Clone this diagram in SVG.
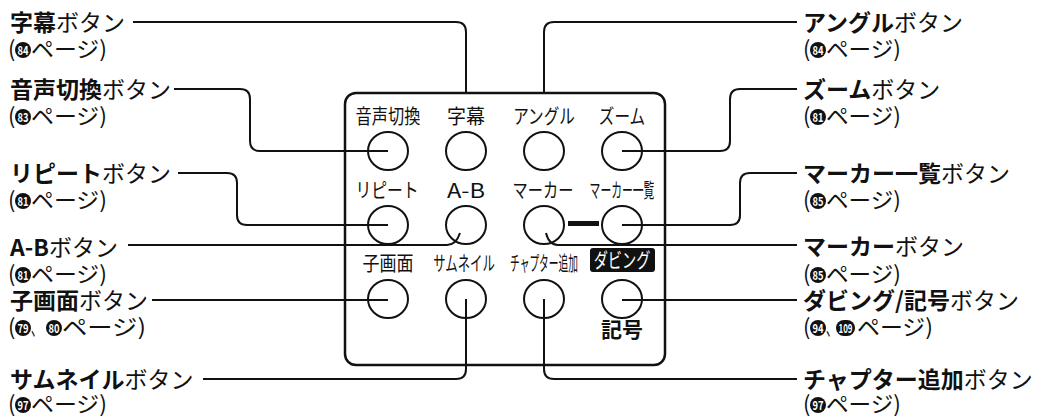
<svg xmlns="http://www.w3.org/2000/svg" width="1040" height="416" viewBox="0 0 1040 416">
<style>
text{font-family:"Noto Sans CJK JP","Noto Sans",sans-serif;fill:#111}
.m{font-size:23px}
.b{font-weight:700}
.s{font-size:22px}
.p{font-size:20px;text-anchor:middle}
.n{font-size:12.5px;font-weight:700;fill:#fff;text-anchor:middle}
.w{fill:#fff}
.k{fill:#111}
.btn{fill:none;stroke:#111;stroke-width:2}
.panel{fill:none;stroke:#111;stroke-width:2.5}
.c{fill:none;stroke:#111;stroke-width:2}
</style>
<rect width="1040" height="416" fill="#fff"/>
<g id="panel">
<rect class="panel" x="345" y="93" width="320" height="272" rx="11"/>
<rect x="568" y="221" width="31" height="5" fill="#111"/>
</g>
<g id="btn-onsei"><text class="p" transform="translate(388,124) scale(0.81,1)">音声切換</text><ellipse class="btn" cx="388" cy="151" rx="20" ry="19"/></g>
<g id="btn-jimaku"><text class="p" transform="translate(466,124) scale(0.95,1)">字幕</text><ellipse class="btn" cx="466" cy="151" rx="20" ry="19"/></g>
<g id="btn-angle"><text class="p" transform="translate(544,124) scale(0.78,1)">アングル</text><ellipse class="btn" cx="544" cy="151" rx="20" ry="19"/></g>
<g id="btn-zoom"><text class="p" transform="translate(622,124) scale(0.78,1)">ズーム</text><ellipse class="btn" cx="622" cy="151" rx="20" ry="19"/></g>
<g id="btn-repeat"><text class="p" transform="translate(387,198) scale(0.79,1)">リピート</text><ellipse class="btn" cx="388" cy="225" rx="20" ry="19"/></g>
<g id="btn-ab"><text class="p" x="466" y="198" textLength="38" lengthAdjust="spacingAndGlyphs">A-B</text><ellipse class="btn" cx="466" cy="225" rx="20" ry="19"/></g>
<g id="btn-marker"><text class="p" transform="translate(543,198) scale(0.76,1)">マーカー</text><ellipse class="btn" cx="544" cy="225" rx="20" ry="19"/></g>
<g id="btn-markerlist"><text class="p" transform="translate(622,198) scale(0.54,1)">マーカー一覧</text><ellipse class="btn" cx="622" cy="225" rx="20" ry="19"/></g>
<g id="btn-pip"><text class="p" transform="translate(388,271) scale(0.85,1)">子画面</text><ellipse class="btn" cx="388" cy="299" rx="20" ry="19"/></g>
<g id="btn-thumb"><text class="p" transform="translate(464,271) scale(0.62,1)">サムネイル</text><ellipse class="btn" cx="466" cy="299" rx="20" ry="19"/></g>
<g id="btn-chapter"><text class="p" transform="translate(544,271) scale(0.486,1)">チャプター追加</text><ellipse class="btn" cx="544" cy="299" rx="20" ry="19"/></g>
<g id="btn-dub"><rect x="590" y="248" width="65" height="24" rx="3" fill="#111"/><text class="p w" transform="translate(622,268) scale(0.71,1)">ダビング</text><ellipse class="btn" cx="622" cy="299" rx="20" ry="19"/><text x="622" y="337" font-size="21" font-weight="700" text-anchor="middle">記号</text></g>

<g id="connectors">
<path class="c" d="M133,22 H456 Q466,22 466,32 V93"/>
<path class="c" d="M797,22 H554 Q544,22 544,32 V93"/>
<path class="c" d="M174,89 H240 Q250,89 250,99 V141 Q250,151 260,151 H388"/>
<path class="c" d="M178,173 H227 Q237,173 237,183 V215 Q237,225 247,225 H388"/>
<path class="c" d="M128,245 H447 Q456,245 460,233"/>
<path class="c" d="M797,245 H558 Q549,245 546,233"/>
<path class="c" d="M797,89 H740 Q730,89 730,99 V141 Q730,151 720,151 H622"/>
<path class="c" d="M797,173 H750 Q740,173 740,183 V215 Q740,225 730,225 H622"/>
<path class="c" d="M152,300 H388"/>
<path class="c" d="M797,300 H622"/>
<path class="c" d="M203,379 H456 Q466,379 466,369 V299"/>
<path class="c" d="M797,379 H554 Q544,379 544,369 V299"/>
</g>

<g id="lbl-jimaku"><text class="m" x="10" y="31"><tspan class="b">字幕</tspan>ボタン</text>
<text class="s" x="8" y="57">(</text><circle class="k" cx="23" cy="50" r="8"/><text class="n" x="23" y="54.5" textLength="11" lengthAdjust="spacingAndGlyphs">84</text><text class="s" x="31" y="57" textLength="76" lengthAdjust="spacingAndGlyphs">ページ)</text></g>
<g id="lbl-onsei"><text class="m" x="10" y="98"><tspan class="b">音声切換</tspan>ボタン</text>
<text class="s" x="8" y="124">(</text><circle class="k" cx="23" cy="117" r="8"/><text class="n" x="23" y="121.5" textLength="11" lengthAdjust="spacingAndGlyphs">83</text><text class="s" x="31" y="124" textLength="76" lengthAdjust="spacingAndGlyphs">ページ)</text></g>
<g id="lbl-repeat"><text class="m" x="10" y="182"><tspan class="b">リピート</tspan>ボタン</text>
<text class="s" x="8" y="208">(</text><circle class="k" cx="23" cy="201" r="8"/><text class="n" x="23" y="205.5" textLength="11" lengthAdjust="spacingAndGlyphs">81</text><text class="s" x="31" y="208" textLength="76" lengthAdjust="spacingAndGlyphs">ページ)</text></g>
<g id="lbl-ab"><text class="m" x="10" y="256"><tspan class="b">A-B</tspan>ボタン</text>
<text class="s" x="8" y="282">(</text><circle class="k" cx="23" cy="275" r="8"/><text class="n" x="23" y="279.5" textLength="11" lengthAdjust="spacingAndGlyphs">81</text><text class="s" x="31" y="282" textLength="76" lengthAdjust="spacingAndGlyphs">ページ)</text></g>
<g id="lbl-pip"><text class="m" x="10" y="309"><tspan class="b">子画面</tspan>ボタン</text>
<text class="s" x="8" y="335">(</text><circle class="k" cx="23" cy="328" r="8"/><text class="n" x="23" y="332.5" textLength="11" lengthAdjust="spacingAndGlyphs">79</text><text class="s" transform="translate(31,335) scale(0.5,1)">、</text><circle class="k" cx="54" cy="328" r="8"/><text class="n" x="54" y="332.5" textLength="11" lengthAdjust="spacingAndGlyphs">80</text><text class="s" x="62" y="335" textLength="84" lengthAdjust="spacingAndGlyphs">ページ)</text></g>
<g id="lbl-thumb"><text class="m" x="10" y="388"><tspan class="b">サムネイル</tspan>ボタン</text>
<text class="s" x="8" y="412">(</text><circle class="k" cx="23" cy="405" r="8"/><text class="n" x="23" y="409.5" textLength="11" lengthAdjust="spacingAndGlyphs">97</text><text class="s" x="31" y="412" textLength="76" lengthAdjust="spacingAndGlyphs">ページ)</text></g>

<g id="lbl-angle"><text class="m" x="803" y="31"><tspan class="b">アングル</tspan>ボタン</text>
<text class="s" x="803" y="57">(</text><circle class="k" cx="818" cy="50" r="8"/><text class="n" x="818" y="54.5" textLength="11" lengthAdjust="spacingAndGlyphs">84</text><text class="s" x="826" y="57" textLength="75" lengthAdjust="spacingAndGlyphs">ページ)</text></g>
<g id="lbl-zoom"><text class="m" x="803" y="98"><tspan class="b">ズーム</tspan>ボタン</text>
<text class="s" x="803" y="124">(</text><circle class="k" cx="818" cy="117" r="8"/><text class="n" x="818" y="121.5" textLength="11" lengthAdjust="spacingAndGlyphs">81</text><text class="s" x="826" y="124" textLength="75" lengthAdjust="spacingAndGlyphs">ページ)</text></g>
<g id="lbl-markerlist"><text class="m" x="803" y="182"><tspan class="b">マーカー一覧</tspan>ボタン</text>
<text class="s" x="803" y="208">(</text><circle class="k" cx="818" cy="201" r="8"/><text class="n" x="818" y="205.5" textLength="11" lengthAdjust="spacingAndGlyphs">85</text><text class="s" x="826" y="208" textLength="75" lengthAdjust="spacingAndGlyphs">ページ)</text></g>
<g id="lbl-marker"><text class="m" x="803" y="255"><tspan class="b">マーカー</tspan>ボタン</text>
<text class="s" x="803" y="282">(</text><circle class="k" cx="818" cy="275" r="8"/><text class="n" x="818" y="279.5" textLength="11" lengthAdjust="spacingAndGlyphs">85</text><text class="s" x="826" y="282" textLength="75" lengthAdjust="spacingAndGlyphs">ページ)</text></g>
<g id="lbl-dub"><text class="m" x="803" y="309"><tspan class="b">ダビング/記号</tspan>ボタン</text>
<text class="s" x="803" y="335">(</text><circle class="k" cx="818" cy="328" r="8"/><text class="n" x="818" y="332.5" textLength="11" lengthAdjust="spacingAndGlyphs">94</text><text class="s" transform="translate(826,335) scale(0.5,1)">、</text><rect class="k" x="836" y="320" width="19" height="16" rx="8"/><text class="n" x="845.5" y="332.5" textLength="14" lengthAdjust="spacingAndGlyphs">109</text><text class="s" x="857" y="335" textLength="76" lengthAdjust="spacingAndGlyphs">ページ)</text></g>
<g id="lbl-chapter"><text class="m" x="803" y="388"><tspan class="b">チャプター追加</tspan>ボタン</text>
<text class="s" x="803" y="412">(</text><circle class="k" cx="818" cy="405" r="8"/><text class="n" x="818" y="409.5" textLength="11" lengthAdjust="spacingAndGlyphs">97</text><text class="s" x="826" y="412" textLength="75" lengthAdjust="spacingAndGlyphs">ページ)</text></g>
</svg>
